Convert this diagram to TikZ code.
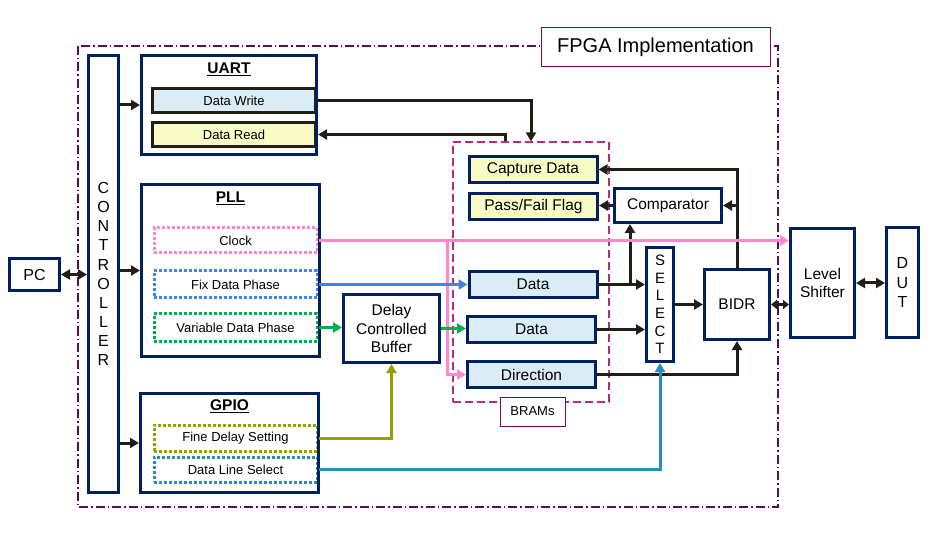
\documentclass[tikz,border=0pt]{standalone}
\usepackage{fontspec}
\setmainfont{Liberation Sans}
\usetikzlibrary{arrows.meta}
\definecolor{navy}{HTML}{002060}
\definecolor{ink}{HTML}{221E15}
\definecolor{cellblue}{HTML}{DAECF6}
\definecolor{cellyellow}{HTML}{F8FBC4}
\definecolor{clkpink}{HTML}{FF88CC}
\definecolor{fixblue}{HTML}{3A86F0}
\definecolor{vargreen}{HTML}{00B050}
\definecolor{olive}{HTML}{9A9F00}
\definecolor{selblue}{HTML}{2A8BBF}
\definecolor{frame}{HTML}{5E0A5E}
\definecolor{tagred}{HTML}{7A0A4A}
\definecolor{bramred}{HTML}{C0287A}
\begin{document}
\begin{tikzpicture}[x=1pt,y=-1pt,
  box/.style={draw=navy, line width=3pt, minimum width=#1, inner sep=0pt},
  cell/.style={draw=ink, line width=3pt, inner sep=0pt, font=\fontsize{13}{15}\selectfont},
  bram/.style={draw=navy, line width=3pt, inner sep=0pt, minimum width=128pt, minimum height=26pt, font=\fontsize{15.5}{18}\selectfont},
  sub/.style={dash pattern=on 3pt off 2pt, line width=3pt, inner sep=0pt, minimum width=163pt, font=\fontsize{13}{15}\selectfont},
  tag/.style={draw=tagred, line width=1pt, fill=white, inner sep=0pt},
  arr/.style={ink, line width=3pt, -{Triangle[length=9pt,width=10pt]}},
  biarr/.style={ink, line width=3pt, {Triangle[length=9pt,width=10pt]}-{Triangle[length=9pt,width=10pt]}},
  wire/.style={line width=3pt, -{Triangle[length=9pt,width=10pt]}}]
\useasboundingbox (0,0) rectangle (939,534);
\draw[frame, line width=1.2pt, dash pattern=on 9pt off 3pt on 1.5pt off 3pt] (78,46) rectangle (778,507); % the FPGA
\node[tag, minimum width=229pt, minimum height=39pt, font=\fontsize{20}{24}\selectfont] (FPGA) at (655.5,47.5) {FPGA Implementation};

\node[box=50pt, minimum height=32pt, font=\fontsize{16}{19}\selectfont] (PC) at (34.5,274.5) {PC};
\node[box=30pt, minimum height=437pt, align=center, font=\fontsize{16}{19.1}\selectfont] (CTRL) at (103.5,274) {C\\O\\N\\T\\R\\O\\L\\L\\E\\R};

% UART
\node[cell, fill=cellblue, minimum width=163pt, minimum height=24pt] (DataWrite) at (234,100.5) {Data Write};
\node[cell, fill=cellyellow, minimum width=163pt, minimum height=24pt] (DataRead) at (234,134.5) {Data Read};
\node[box=175pt, minimum height=99pt] (UART) at (229,105) {};
\node[font=\fontsize{15.5}{18}\bfseries] (UARTLabel) at (229,69) {\underline{UART}};

% PLL
\node[sub, draw=clkpink, minimum height=25pt] (Clock) at (235.5,240.5) {Clock};
\node[sub, draw=fixblue, minimum height=27pt] (FixPhase) at (235.5,284.5) {Fix Data Phase};
\node[sub, draw=vargreen, minimum height=27pt] (VarPhase) at (235.5,327.5) {Variable Data Phase};
\node[box=178pt, minimum height=172pt] (PLL) at (230.5,270.5) {};
\node[font=\fontsize{15.5}{18}\bfseries] (PLLLabel) at (230.5,198) {\underline{PLL}};

% GPIO
\node[sub, draw=olive, minimum height=26pt] (FineDelay) at (235.5,438) {Fine Delay Setting};
\node[sub, draw=selblue, minimum height=25pt] (LineSel) at (235.5,469.5) {Data Line Select};
\node[box=178pt, minimum height=99pt] (GPIO) at (229.5,443) {};
\node[font=\fontsize{15.5}{18}\bfseries] (GPIOLabel) at (229.5,406) {\underline{GPIO}};

\node[box=96pt, minimum height=68pt, align=center, font=\fontsize{15.5}{18.8}\selectfont] (DCB) at (391.5,328.5) {Delay\\Controlled\\Buffer};

% BRAMs
\node[draw=bramred, line width=1.2pt, dash pattern=on 8pt off 4pt, minimum width=156pt, minimum height=260pt, inner sep=0pt] (BRAM) at (531,272) {};
\node[tag, minimum width=65pt, minimum height=29pt, font=\fontsize{13}{15}\selectfont] (BRAMLabel) at (532.5,411.5) {BRAMs};
\node[bram, fill=cellyellow] (Capture) at (533,169.5) {Capture Data};
\node[bram, fill=cellyellow] (PassFail) at (533.5,206.5) {Pass/Fail Flag};
\node[bram, fill=cellblue] (Data1) at (533,284.5) {Data};
\node[bram, fill=cellblue, minimum height=25pt] (Data2) at (531.5,329.5) {Data};
\node[bram, fill=cellblue] (Dir) at (531.5,374.5) {Direction};

\node[box=107pt, minimum height=34pt, font=\fontsize{15.5}{18}\selectfont] (Comp) at (668,205.5) {Comparator};
\node[box=27pt, minimum height=114pt, align=center, font=\fontsize{15}{17.7}\selectfont] (SEL) at (660,304.5) {S\\E\\L\\E\\C\\T};
\node[box=65pt, minimum height=70pt, font=\fontsize{15.5}{18}\selectfont] (BIDR) at (737,304.5) {BIDR};
\node[box=64pt, minimum height=109pt, align=center, font=\fontsize{15.5}{18.7}\selectfont] (LS) at (822.5,283) {Level\\Shifter};
\node[box=32pt, minimum height=110pt, align=center, font=\fontsize{16}{19.2}\selectfont] (DUT) at (902.5,282.5) {D\\U\\T};

\coordinate (tap) at (630,284.5);
\coordinate (ckTap) at (447,240.5);

% connectors
\draw[biarr] (PC.east) -- (PC.east -| CTRL.west);
\foreach \b in {UART,PLL,GPIO} \draw[arr] (CTRL.east |- \b.west) -- (\b.west);
\draw[arr] (DataWrite.east) -| (BRAM.north);
\draw[arr] ([xshift=-26pt]BRAM.north) |- (DataRead.east -| UART.east);
\draw[arr] (BIDR.north) |- (Capture.east);
\draw[arr] (BIDR.north |- Comp.east) -- (Comp.east);
\draw[arr] (Comp.west) -- (Comp.west -| PassFail.east);
\draw[arr] (Data1.east) -- (Data1.east -| SEL.west);
\draw[arr] (tap) -- (tap |- Comp.south);
\draw[arr] (Data2.east) -- (Data2.east -| SEL.west);
\draw[arr] (Dir.east) -| (BIDR.south);
\draw[arr] (SEL.east) -- (SEL.east -| BIDR.west);
\draw[ink, line width=3pt, {Triangle[length=6pt,width=9pt]}-{Triangle[length=6pt,width=9pt]}] (BIDR.east) -- (BIDR.east -| LS.west);
\draw[biarr] (LS.east) -- (LS.east -| DUT.west);
\draw[wire, clkpink] (Clock.east) -- (Clock.east -| LS.west);
\draw[wire, clkpink] (ckTap) |- (Dir.west);
\draw[wire, fixblue] (FixPhase.east) -- (Data1.west);
\draw[wire, vargreen] (VarPhase.east) -- (VarPhase.east -| DCB.west);
\draw[wire, vargreen] (DCB.east) -- (DCB.east -| Data2.west);
\draw[wire, olive] (FineDelay.east) -| (DCB.south);
\draw[wire, selblue] (LineSel.east) -| (SEL.south);
\end{tikzpicture}
\end{document}
